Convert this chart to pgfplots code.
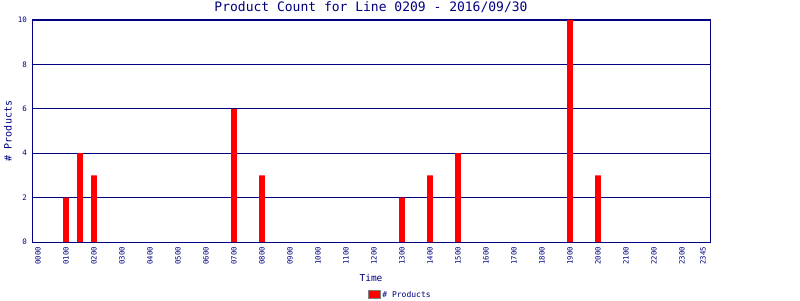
\documentclass[border=0pt]{standalone}
\usepackage{pgfplots}
\pgfplotsset{compat=1.18}
\usepackage{fontspec}
\setmainfont{DejaVu Sans Mono}
\definecolor{navy}{RGB}{0,0,128}
\begin{document}
\begin{tikzpicture}[x=1bp,y=1bp]
\path[use as bounding box] (0,0) rectangle (800,300);
\begin{axis}[at={(32bp,58bp)}, anchor=south west, scale only axis,
  width=678bp, height=222bp,
  xmin=-0.857, xmax=96, ymin=0, ymax=10,
  ytick={0,2,4,6,8,10},
  ymajorgrids, grid style={navy, line width=0.9bp},
  axis line style={navy, line width=1bp},
  major tick length=0pt,
  xtick={0,4,8,12,16,20,24,28,32,36,40,44,48,52,56,60,64,68,72,76,80,84,88,92,95},
  xticklabels={0000,0100,0200,0300,0400,0500,0600,0700,0800,0900,1000,1100,1200,1300,1400,1500,1600,1700,1800,1900,2000,2100,2200,2300,2345},
  /pgf/number format/assume math mode=true,
  xticklabel style={rotate=90, anchor=east, font=\fontsize{7.3bp}{8bp}\selectfont, text=navy, inner sep=0pt, xshift=-5bp},
  yticklabel style={font=\fontsize{7.5bp}{8bp}\selectfont, text=navy, inner sep=0pt, xshift=-5bp},
  title={Product Count for Line 0209 - 2016/09/30},
  title style={at={(axis description cs:0.5,1.054)}, anchor=center, yshift=-5bp, font=\fontsize{13bp}{14bp}\selectfont, text=navy},
  xlabel={Time},
  xlabel style={at={(axis description cs:0.5,-0.162)}, anchor=center, font=\fontsize{9.5bp}{10bp}\selectfont, text=navy},
  ylabel={\# Products},
  ylabel style={at={(axis description cs:-0.0354,0.5)}, anchor=center, rotate=0, font=\fontsize{10bp}{11bp}\selectfont, text=navy},
  legend style={at={(axis description cs:0.543,-0.239)}, anchor=center, draw=none, fill=none,
    font=\fontsize{8bp}{9bp}\selectfont, text=navy, inner sep=0pt},
  legend image code/.code={\draw[fill=red, draw=gray, line width=0.8bp] (0bp,-3.5bp) rectangle (12bp,4.5bp);},
]
\addplot[ybar, bar width=0.8, fill=red, draw=none] coordinates {
(4,2) (6,4) (8,3) (28,6) (32,3) (52,2) (56,3) (60,4) (76,10) (80,3)
};
\addlegendentry{\# Products}
\end{axis}
\end{tikzpicture}
\end{document}
